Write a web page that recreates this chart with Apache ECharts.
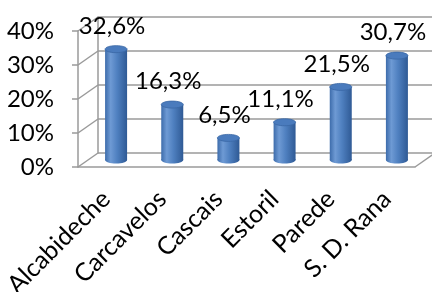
<!DOCTYPE html>
<html>
<head>
    <meta charset="utf-8">
    <title>ECharts</title>
    <script src="https://cdn.jsdelivr.net/npm/echarts@6/dist/echarts.min.js"></script>
    <style>
        html, body { margin: 0; padding: 0; background: #fff; }
    </style>
</head>
<body>
    <div id="main" style="width: 432px;height:292px;"></div>
    <script type="text/javascript">
        var categories = ['Alcabideche', 'Carcavelos', 'Cascais', 'Estoril', 'Parede', 'S. D. Rana'];
        var values = [32.6, 16.3, 6.5, 11.1, 21.5, 30.7];
        var yTicks = [0, 10, 20, 30, 40];
        var yTickLabels = ['0%', '10%', '20%', '30%', '40%'];

        var FONT = 'Lato';
        var LINE = '#9a9a9a';
        // 3D depth offset of the back wall
        var DX = 20, DY = -14;

        var myChart = echarts.init(document.getElementById('main'));

        function fmt(v) {
            return v.toFixed(1).replace('.', ',') + '%';
        }

        option = {
            animation: false,
            grid: [
                {left: 78, top: 31, width: 337, height: 136, outerBoundsMode: 'none', containLabel: false},
                {left: 78 + DX, top: 31 + DY, width: 337, height: 136, outerBoundsMode: 'none', containLabel: false}
            ],
            xAxis: [
                {
                    type: 'category',
                    gridIndex: 0,
                    data: categories,
                    axisLine: {lineStyle: {color: LINE, width: 1.5}},
                    axisTick: {length: 6, lineStyle: {color: LINE, width: 1.5}},
                    axisLabel: {
                        rotate: 45,
                        margin: 28,
                        color: '#000',
                        fontFamily: FONT,
                        fontSize: 25
                    }
                },
                {
                    type: 'category',
                    gridIndex: 1,
                    data: categories,
                    show: false
                }
            ],
            yAxis: [
                {
                    type: 'value',
                    gridIndex: 0,
                    min: 0,
                    max: 40,
                    interval: 10,
                    axisLine: {show: true, lineStyle: {color: LINE, width: 1.5}},
                    axisTick: {show: true, length: 6, lineStyle: {color: LINE, width: 1.5}},
                    splitLine: {show: false},
                    axisLabel: {
                        margin: 24,
                        color: '#000',
                        fontFamily: FONT,
                        fontSize: 24,
                        formatter: function (v) {
                            return yTickLabels[yTicks.indexOf(v)];
                        }
                    }
                },
                {
                    type: 'value',
                    gridIndex: 1,
                    min: 0,
                    max: 40,
                    interval: 10,
                    axisLine: {show: true, lineStyle: {color: LINE, width: 1.5}},
                    axisTick: {show: false},
                    axisLabel: {show: false},
                    splitLine: {show: true, lineStyle: {color: LINE, width: 1.5}}
                }
            ],
            series: [
                {
                    // side wall / floor diagonals
                    type: 'custom',
                    xAxisIndex: 0,
                    yAxisIndex: 0,
                    silent: true,
                    data: yTicks.map(function (t) { return [0, t]; }),
                    renderItem: function (params, api) {
                        var cs = params.coordSys;
                        var t = api.value(1);
                        var y = api.coord([0, t])[1];
                        var children = [{
                            type: 'line',
                            shape: {x1: cs.x, y1: y, x2: cs.x + DX, y2: y + DY},
                            style: {stroke: LINE, lineWidth: 1.5}
                        }];
                        if (t === 0) {
                            children.push({
                                type: 'line',
                                shape: {x1: cs.x + cs.width, y1: y, x2: cs.x + cs.width + DX, y2: y + DY},
                                style: {stroke: LINE, lineWidth: 1.5}
                            });
                        }
                        return {type: 'group', children: children};
                    }
                },
                {
                    // cylinders
                    type: 'custom',
                    xAxisIndex: 0,
                    yAxisIndex: 0,
                    data: values.map(function (v, i) { return [i, v]; }),
                    renderItem: function (params, api) {
                        var idx = api.value(0);
                        var v = api.value(1);
                        var p0 = api.coord([idx, 0]);
                        var p1 = api.coord([idx, v]);
                        var cx = p0[0] + DX / 2;
                        var yb = p0[1] + DY / 2;
                        var yt = p1[1] + DY / 2;
                        var w = 22, ry = 3.5;
                        var body = new echarts.graphic.LinearGradient(0, 0, 1, 0, [
                            {offset: 0, color: '#3d6cab'},
                            {offset: 0.25, color: '#6e9ad4'},
                            {offset: 0.55, color: '#4f80c0'},
                            {offset: 1, color: '#2f5a95'}
                        ]);
                        return {
                            type: 'group',
                            children: [
                                {
                                    type: 'ellipse',
                                    shape: {cx: cx, cy: yb, rx: w / 2, ry: ry},
                                    style: {fill: body}
                                },
                                {
                                    type: 'rect',
                                    shape: {x: cx - w / 2, y: yt, width: w, height: yb - yt},
                                    style: {fill: body}
                                },
                                {
                                    type: 'ellipse',
                                    shape: {cx: cx, cy: yt, rx: w / 2, ry: ry},
                                    style: {fill: '#4a7bbd', stroke: '#3a67a5', lineWidth: 0.8}
                                },
                                {
                                    type: 'text',
                                    style: {
                                        x: cx - 4,
                                        y: yt - 23,
                                        text: fmt(v),
                                        fill: '#000',
                                        font: '24px ' + FONT,
                                        align: 'center',
                                        verticalAlign: 'middle'
                                    }
                                }
                            ]
                        };
                    }
                }
            ]
        };
        myChart.setOption(option);
    </script>
</body>
</html>
